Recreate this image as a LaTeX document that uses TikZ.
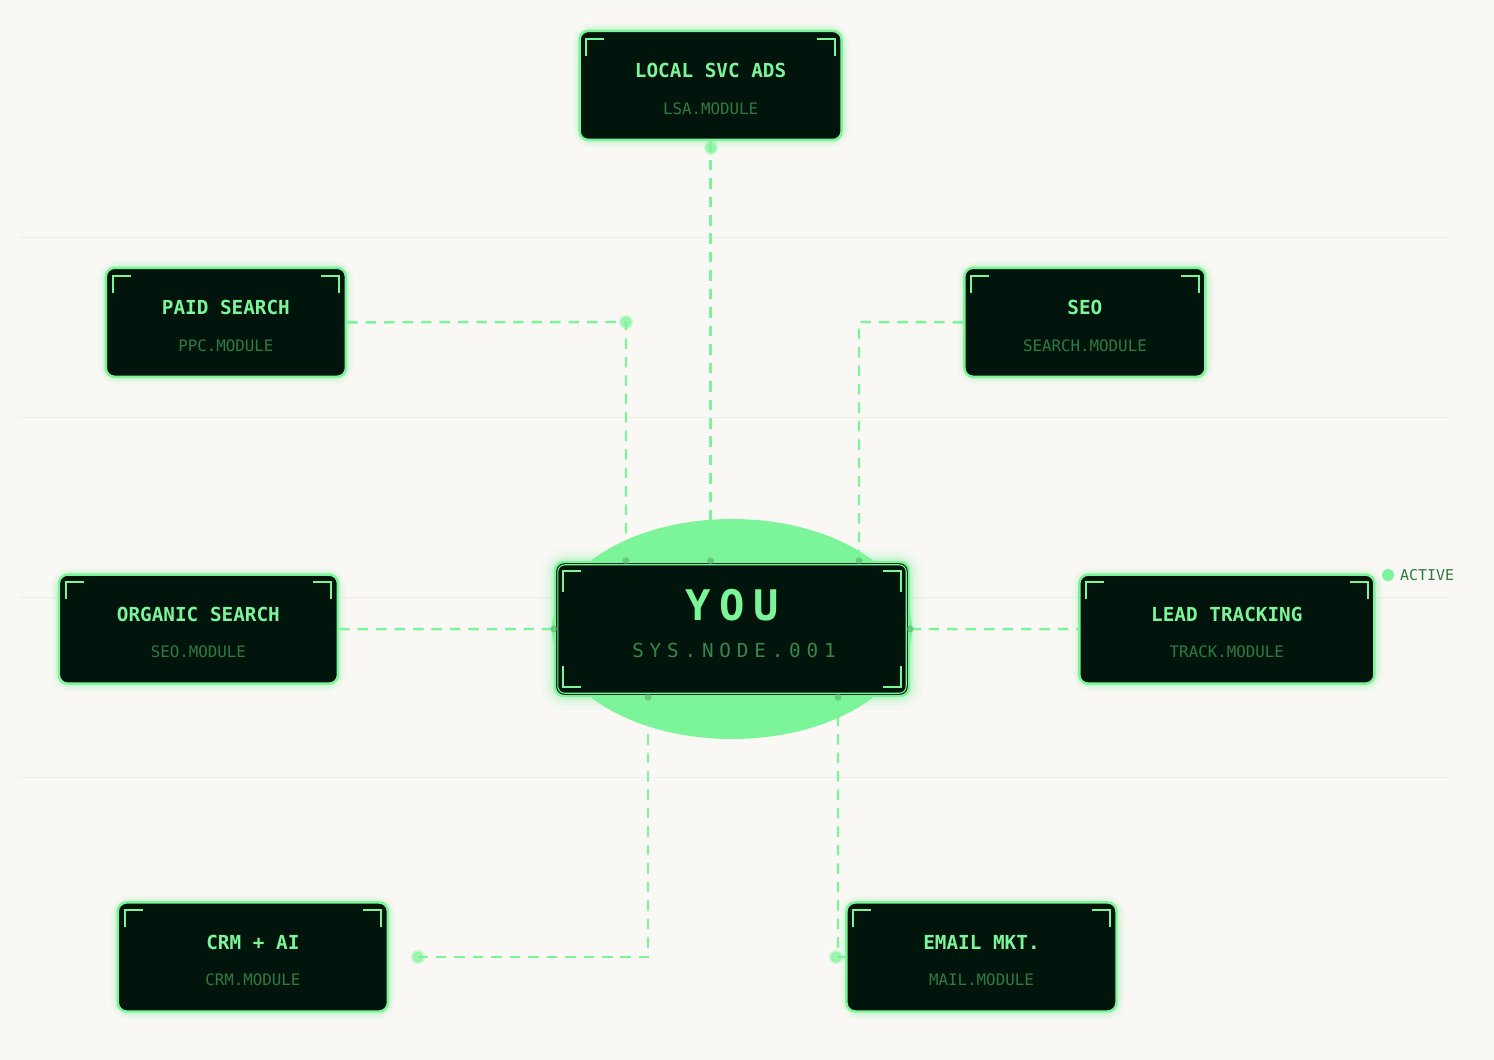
\documentclass[tikz,border=0pt]{standalone}
\usepackage{fontspec}
\setmonofont{DejaVu Sans Mono}
\usetikzlibrary{calc}
\definecolor{bg}{HTML}{F9F8F4}
\definecolor{neon}{HTML}{7CF59A}
\definecolor{boxbg}{HTML}{02150C}
\definecolor{subc}{HTML}{2F7A42}
\definecolor{gridc}{HTML}{EEEEE8}
\tikzset{
  mod/.style={draw=neon, line width=1.4pt, fill=boxbg, rounded corners=5pt, inner sep=0pt},
  glow/.style={draw=neon, rounded corners=7pt},
  conn/.style={draw=neon, line width=1.4pt, dash pattern=on 6pt off 4.5pt},
  brk/.style={draw=neon, line width=1.1pt},
  ttl/.style={font=\ttfamily\bfseries\fontsize{11}{13}\selectfont, text=neon},
  sub/.style={font=\ttfamily\fontsize{9}{11}\selectfont, text=subc},
  dotc/.style={fill=neon, draw=neon, fill opacity=0.7, draw opacity=0.35, line width=2pt},
}
\newcommand{\mybox}[7]{%
  % name, x1,y1,x2,y2,title,sub  (pixel coords)
  \foreach \w/\o in {9/0.06,6/0.10,3.5/0.16}{
    \draw[glow, line width=\w pt, opacity=\o] (#2*0.02,-#3*0.02) rectangle (#4*0.02,-#5*0.02);}
  \node[mod, minimum width={(#4-#2)*0.02cm}, minimum height={(#5-#3)*0.02cm}] (#1) at ({(#2+#4)*0.01},{-(#3+#5)*0.01}) {};
  \draw[brk] ($(#1.north west)+(0.16,-0.52)$) -- ++(0,0.34) -- ++(0.36,0);
  \draw[brk] ($(#1.north east)+(-0.16,-0.52)$) -- ++(0,0.34) -- ++(-0.36,0);
  \node[ttl] (#1t) at ($(#1.center)+(0,0.30)$) {#6};
  \node[sub] (#1s) at ($(#1.center)+(0,-0.46)$) {#7};
}
\begin{document}
\begin{tikzpicture}
\fill[bg] (0,0) rectangle (29.88,-21.2);
\useasboundingbox (0,0) rectangle (29.88,-21.2);
\foreach \y in {237,417,597,777}{\draw[gridc, line width=0.6pt] (0.4,-\y*0.02) -- (29.0,-\y*0.02);}
% ellipse behind center
\fill[neon] (14.64,-12.58) ellipse (3.6 and 2.2);
% connectors
\coordinate (jPaid) at (12.52,-6.44);
\coordinate (jSeo) at (17.18,-6.44);
\coordinate (jCrm) at (12.96,-19.14);
\coordinate (jEm) at (16.76,-19.14);
\coordinate (dLsa) at (14.22,-2.96);
\coordinate (dCrm) at (8.36,-19.14);
\coordinate (dEm) at (16.72,-19.14);
% boxes
\mybox{lsa}{580}{31}{842}{140}{LOCAL SVC ADS}{LSA.MODULE}
\mybox{paid}{106}{268}{346}{377}{PAID SEARCH}{PPC.MODULE}
\mybox{seo}{965}{268}{1206}{377}{SEO}{SEARCH.MODULE}
\mybox{org}{59}{575}{338}{684}{ORGANIC SEARCH}{SEO.MODULE}
\mybox{lead}{1080}{575}{1375}{684}{LEAD TRACKING}{TRACK.MODULE}
\mybox{crm}{118}{903}{388}{1012}{CRM + AI}{CRM.MODULE}
\mybox{em}{847}{903}{1117}{1012}{EMAIL MKT.}{MAIL.MODULE}
% center YOU
\foreach \w/\o in {16/0.05,11/0.08,7/0.12,4/0.2}{
  \draw[glow, line width=\w pt, opacity=\o] (11.10,-11.24) rectangle (18.18,-13.92);}
\node[mod, minimum width=7.08cm, minimum height=2.68cm] (you) at (14.64,-12.58) {};
\draw[neon, line width=0.6pt, rounded corners=4pt] ($(you.north west)+(0.08,-0.08)$) rectangle ($(you.south east)+(-0.08,0.08)$);
\draw[brk] ($(you.north west)+(0.18,-0.62)$) -- ++(0,0.42) -- ++(0.36,0);
\draw[brk] ($(you.north east)+(-0.18,-0.62)$) -- ++(0,0.42) -- ++(-0.36,0);
\draw[brk] ($(you.south west)+(0.18,0.62)$) -- ++(0,-0.42) -- ++(0.36,0);
\draw[brk] ($(you.south east)+(-0.18,0.62)$) -- ++(0,-0.42) -- ++(-0.36,0);
\node[font=\ttfamily\bfseries\fontsize{24}{26}\selectfont\addfontfeatures{LetterSpace=20}, text=neon] (yout) at (14.64,-12.1) {YOU};
\node[font=\ttfamily\fontsize{11}{13}\selectfont\addfontfeatures{LetterSpace=30}, text=subc!90!neon] (yous) at (14.68,-13.0) {SYS.NODE.001};
% connector lines
\draw[conn] (lsa.south) -- (you.north -| lsa.south);
\draw[conn] (paid.east) -- (jPaid) -- (you.north -| jPaid);
\draw[conn] (seo.west) -- (jSeo) -- (you.north -| jSeo);
\draw[conn] (org.east) -- (you.west);
\draw[conn] (you.east) -- (lead.west);
\draw[conn] (you.south -| jCrm) -- (jCrm) -- (dCrm);
\draw[conn] (you.south -| jEm) -- (jEm) -- (em.west);
% junction dots
\foreach \p in {dLsa,jPaid,dCrm,dEm}{\filldraw[dotc] (\p) circle (0.11);}
\foreach \p in {(you.north -| lsa.south),(you.north -| jPaid),(you.north -| jSeo),(you.south -| jCrm),(you.south -| jEm),(you.west),(you.east)}{\fill[neon!70!black, opacity=0.6] \p circle (0.07);}
% active
\fill[neon] (27.76,-11.50) circle (0.12);
\node[font=\ttfamily\fontsize{8.5}{10}\selectfont, text=subc, anchor=west] (act) at (27.88,-11.50) {ACTIVE};
\end{tikzpicture}
\end{document}
